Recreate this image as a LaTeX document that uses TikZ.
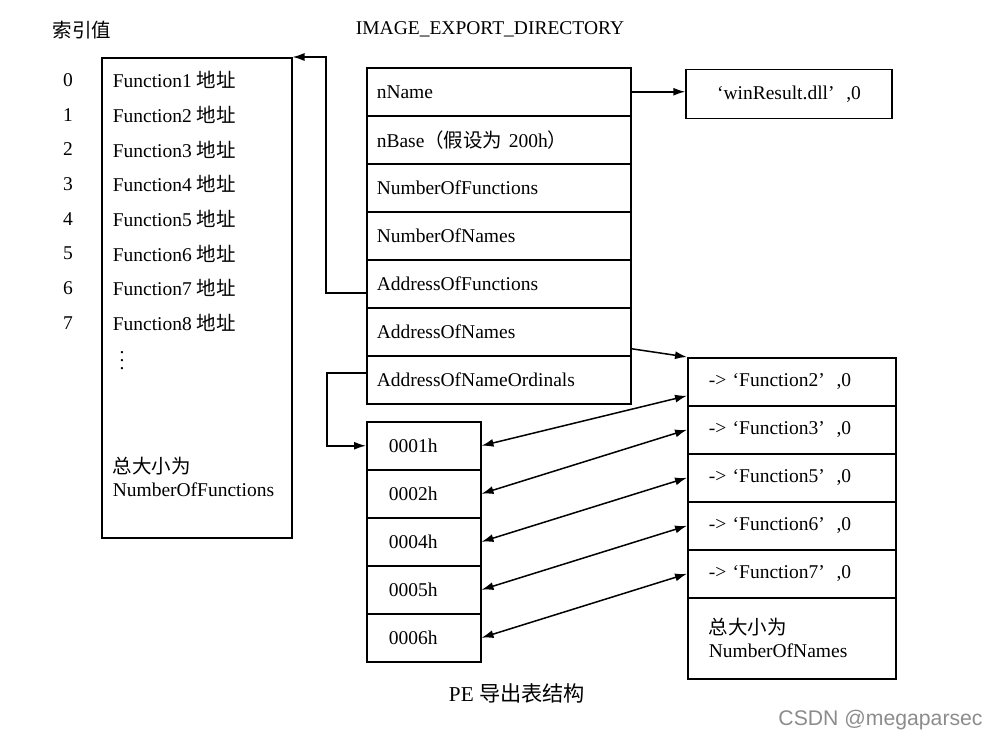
\documentclass[tikz,border=0pt]{standalone}
\usepackage{fontspec}
\setmainfont{Liberation Serif}
\newfontfamily\cjk{Noto Sans CJK SC}
\newfontfamily\wmfont{Liberation Sans}
\usetikzlibrary{arrows.meta}
\newcommand{\qgap}{\hspace{0.6em}}

\begin{document}
\begin{tikzpicture}[x=0.5pt,y=-0.5pt,line width=0.75pt,
    every node/.style={font=\fontsize{9.75}{11.5}\selectfont},
    dirrow/.style={draw, anchor=north west, minimum height=24pt, text width=122pt,
        inner xsep=5pt, inner ysep=0pt, align=left},
    ordrow/.style={draw, anchor=north west, minimum height=24pt, text width=35pt,
        inner xsep=11pt, inner ysep=0pt, align=left},
    namerow/.style={draw, anchor=north west, minimum height=24pt, text width=83pt,
        inner xsep=10.5pt, inner ysep=0pt, align=left},
    arr/.style={-{Latex[length=6pt,width=4pt]}},
    dbl/.style={{Latex[length=6pt,width=4pt]}-{Latex[length=6pt,width=4pt]}}]
        \useasboundingbox (0,0) rectangle (1005,739);
        % Titles
        \node (idxtitle) at (82,30) {\cjk 索引值};
        \node (dirtitle) at (490,29) {IMAGE\_EXPORT\_DIRECTORY};
        % Function address table
        \node[draw, anchor=north west, minimum width=95pt, minimum height=240pt, inner sep=0pt] (funcs) at (101,57) {};
        \foreach \i [count=\n] in {0,...,7} {
            \node (i\i) at (68,80+34.7*\i) {\i};
            \node[anchor=west, inner xsep=0pt] (f\i) at (112,80+34.7*\i) {Function\n\ {\cjk 地址}};
        }
        \node (fdots) at (122,355) {$\vdots$};
        \node[anchor=west, align=left, inner xsep=0pt] (fsize) at (112,477) {{\cjk 总大小为}\\NumberOfFunctions};
        % Export directory
        \foreach \t [count=\i] in {nName, {nBase{\cjk （假设为 }200h{\cjk ）}}, NumberOfFunctions,
                NumberOfNames, AddressOfFunctions, AddressOfNames, AddressOfNameOrdinals}
            \node[dirrow] (d\i) at (366,67+48*\i-48) {\t};
        \node[draw, minimum width=103pt, minimum height=24.5pt] (win) at (789,94) {‘winResult.dll’\qgap,0};
        % Name ordinals
        \foreach \t [count=\i] in {0001h, 0002h, 0004h, 0005h, 0006h}
            \node[ordrow] (o\i) at (366,421+48*\i-48) {\t};
        % Names
        \foreach \t [count=\i] in {2,3,5,6,7}
            \node[namerow] (n\i) at (687,357+48*\i-48) {-> ‘Function\t’\qgap,0};
        \node[namerow, minimum height=40.5pt] (n6) at (687,597) {{\cjk 总大小为}\\NumberOfNames};
        % Connectors
        \draw[arr] (d1.east) -- (d1.east -| win.west);
        \draw[arr] ([yshift=-4.5pt]d5.west) -- ++(-40,0) |- (funcs.north east);
        \draw[arr] ([yshift=-8.5pt]d6.east) -- (n1.north west);
        \draw[arr] ([yshift=3.5pt]d7.west) -- ++(-39,0) |- (o1.west);
        \draw[dbl] (o1.east) -- ([yshift=-7pt]n1.west);
        \foreach \a in {2,...,5}
            \draw[dbl] (o\a.east) -- (n\a.west);
        % Caption
        \node[font=\fontsize{10.6}{12}\selectfont] (caption) at (517,693) {PE {\cjk 导出表结构}};
        \node[font=\wmfont\fontsize{10.6}{12}\selectfont, text=black!45, anchor=east] (mark) at (990,720) {CSDN @megaparsec};
    \end{tikzpicture}
\end{document}
